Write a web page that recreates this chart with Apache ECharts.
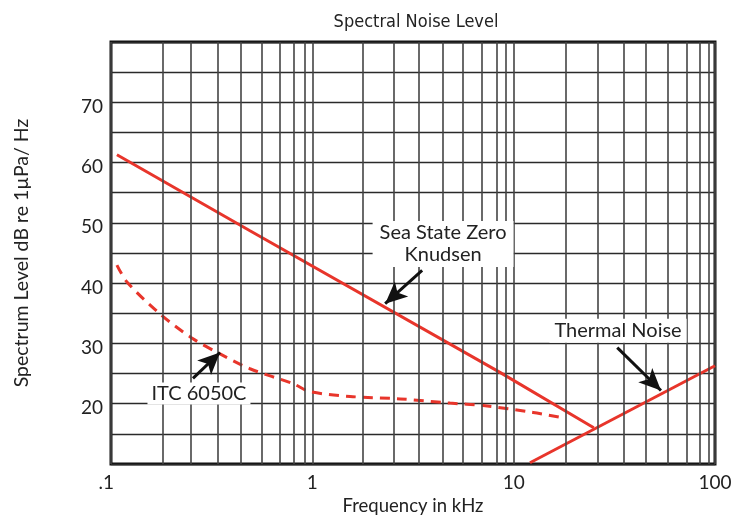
<!DOCTYPE html>
<html><head><meta charset="utf-8">
<script src="https://cdn.jsdelivr.net/npm/echarts@6/dist/echarts.min.js"></script>
<style>html,body{margin:0;padding:0;background:#fff}#c{width:749px;height:515px}</style>
</head><body><div id="c"></div>
<script>
// ---- data ----
const xTickValues = [0.1, 1, 10, 100];
const xTickLabels = ['.1', '1', '10', '100'];
const yTickLabels = [20, 30, 40, 50, 60, 70];
// vertical minor grid lines, positions as drawn in the picture (kHz)
const minorGridFreqs = [0.1751, 0.2526, 0.340, 0.4373, 0.560, 0.6911, 0.8092, 0.9178,
  1.786, 2.534, 3.389, 4.440, 5.606, 6.966, 8.272, 9.167,
  18.21, 26.17, 35.35, 45.32, 58.48, 72.27, 83.85, 93.48];
const seaStateZero = [[0.107, 61.3], [0.49, 48.7], [8.55, 25.2], [25, 16]];
const thermalNoise = [[12.05, 10.2], [100, 26.3]];
const itc6050c = [[0.107, 43], [0.12, 40.2], [0.175, 34.9], [0.252, 30.9], [0.335, 28.55],
  [0.49, 25.8], [0.805, 23.3], [0.974, 22], [1.54, 21.2], [2.73, 20.8], [4.83, 20.1],
  [7.05, 19.7], [12.5, 18.55], [17.3, 17.7]];
// annotation anchors [freq, dB]
const seaLabel = { text: 'Sea State Zero\nKnudsen', at: [4.46, 46.5] };
const thermalLabel = { text: 'Thermal Noise', at: [33.0, 32.1] };
const itcLabel = { text: 'ITC 6050C', at: [0.2735, 21.7] };
const seaArrow = [[3.51, 42.1], [2.30, 36.6]];
const thermalArrow = [[32.7, 29.3], [53.9, 22.2]];
const itcArrow = [[0.2553, 24.2], [0.3478, 28.5]];

const RED = '#e8352b';
const FONT = 'Lato, "Open Sans", sans-serif';

function arrow(a) {
  return [
    { coord: a[0], symbol: 'none' },
    { coord: a[1], symbol: 'arrow', symbolSize: [15, 22] }
  ];
}
function label(l, pad) {
  return {
    coord: l.at, symbol: 'circle', symbolSize: 1, itemStyle: { color: 'rgba(0,0,0,0)' },
    label: {
      show: true, position: 'inside', formatter: l.text, color: '#222', fontFamily: FONT,
      fontSize: 20, lineHeight: 22, backgroundColor: '#fff', padding: pad
    }
  };
}
const arrowLine = { color: '#111', width: 3, type: 'solid' };

const chart = echarts.init(document.getElementById('c'));
chart.setOption({
  animation: false,
  backgroundColor: '#fff',
  title: {
    text: 'Spectral Noise Level', left: 411, top: 8, textAlign: 'center',
    textStyle: { fontFamily: '"Liberation Sans Narrow", "DejaVu Sans Condensed", sans-serif', fontSize: 18, fontWeight: 'normal', color: '#222' }
  },
  grid: { left: 111, right: 34, top: 42, bottom: 51, show: true, borderColor: '#111', borderWidth: 3,
          backgroundColor: 'transparent', outerBoundsMode: 'none', containLabel: false },
  xAxis: {
    type: 'log', logBase: 10, min: 0.1, max: 100,
    name: 'Frequency in kHz', nameLocation: 'middle', nameGap: 27,
    nameTextStyle: { fontFamily: FONT, fontSize: 18.5, color: '#222' },
    axisLine: { show: false }, axisTick: { show: false },
    axisLabel: {
      fontFamily: FONT, fontSize: 19, color: '#222', margin: 9,
      formatter: v => {
        const i = xTickValues.findIndex(t => Math.abs(Math.log10(t) - Math.log10(v)) < 1e-6);
        if (i < 0) return '';
        return i === 0 ? xTickLabels[i] + '\u2002' : xTickLabels[i];
      }
    },
    splitLine: { show: true, lineStyle: { color: '#444', width: 1.6 } }
  },
  yAxis: {
    type: 'value', min: 10, max: 80, interval: 5,
    name: 'Spectrum Level dB re 1\u00b5Pa/ Hz', nameLocation: 'middle', nameGap: 79,
    nameTextStyle: { fontFamily: FONT, fontSize: 19.5, color: '#222' },
    axisLine: { show: false }, axisTick: { show: false },
    axisLabel: {
      fontFamily: FONT, fontSize: 19, color: '#222', margin: 8, verticalAlign: 'top', lineHeight: 9,
      formatter: v => yTickLabels.indexOf(v) >= 0 ? String(v) : ''
    },
    splitLine: { show: true, lineStyle: { color: '#2a2a2a', width: 1.3 } }
  },
  series: [
    {
      type: 'line', name: 'grid', data: [], silent: true, z: 1,
      markLine: {
        silent: true, symbol: ['none', 'none'], label: { show: false },
        lineStyle: { color: '#444', width: 1.6, type: 'solid' },
        data: minorGridFreqs.map(f => ({ xAxis: f }))
      }
    },
    {
      type: 'line', name: 'Sea State Zero Knudsen', data: seaStateZero, showSymbol: false, z: 3,
      lineStyle: { color: RED, width: 3 },
      markLine: { silent: true, label: { show: false }, lineStyle: arrowLine, data: [arrow(seaArrow)] },
      markPoint: { silent: true, data: [label(seaLabel, [1, 7])] }
    },
    {
      type: 'line', name: 'Thermal Noise', data: thermalNoise, showSymbol: false, z: 3,
      lineStyle: { color: RED, width: 3 },
      markLine: { silent: true, label: { show: false }, lineStyle: arrowLine, data: [arrow(thermalArrow)] },
      markPoint: { silent: true, data: [label(thermalLabel, [1, 5])] }
    },
    {
      type: 'line', name: 'ITC 6050C', data: itc6050c, showSymbol: false, z: 3, smooth: 0.3,
      lineStyle: { color: RED, width: 3, type: [10, 7] },
      markLine: { silent: true, label: { show: false }, lineStyle: arrowLine, data: [arrow(itcArrow)] },
      markPoint: { silent: true, data: [label(itcLabel, [0, 4])] }
    }
  ]
});
</script></body></html>
